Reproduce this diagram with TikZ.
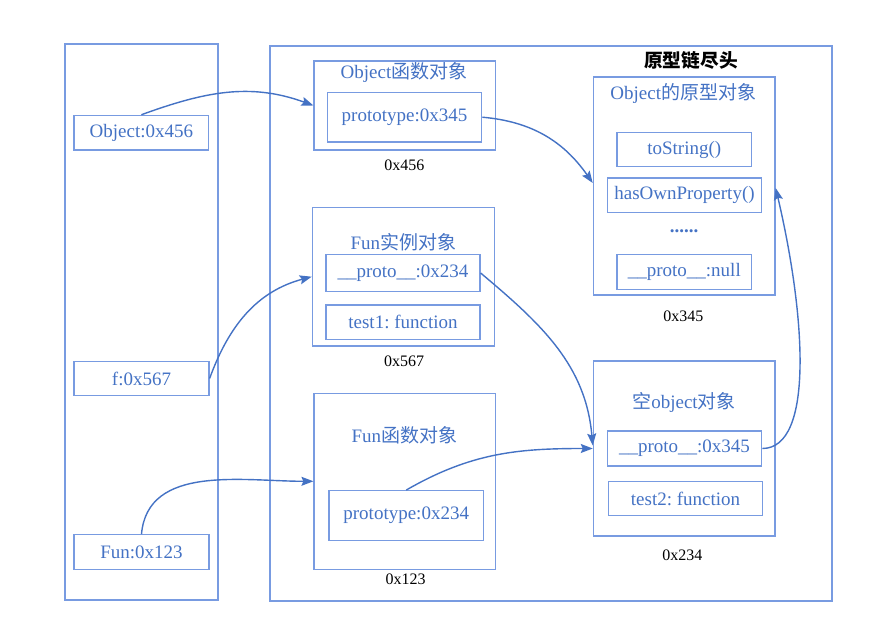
\documentclass[tikz,border=0pt]{standalone}
\usepackage{fontspec}
\setmainfont{Liberation Serif}
\newfontfamily\cjk{Noto Sans CJK SC}
\usetikzlibrary{arrows.meta, positioning}
\frenchspacing

\definecolor{boxblue}{RGB}{120,155,225}
\definecolor{txtblue}{RGB}{68,114,196}

\tikzset{
    frame/.style={draw=boxblue, line width=1.2pt, inner sep=0pt},
    field/.style={frame, text=txtblue, font=\fontsize{19}{22}\selectfont},
    heading/.style={text=txtblue, inner sep=0pt, font=\fontsize{19}{22}\selectfont},
    addr/.style={text=black, inner sep=0pt, font=\fontsize{16}{19}\selectfont},
    link/.style={draw=txtblue, line width=1.4pt, -{Stealth[length=12pt,width=9pt,inset=2pt]}},
}

\begin{document}
\begin{tikzpicture}[x=1pt,y=1pt]
    \useasboundingbox (0,0) rectangle (877,636);

        % Stack and heap
        \node[frame, minimum width=153pt, minimum height=556pt] (stack) at (141.5,314) {};
        \node[frame, minimum width=562pt, minimum height=555pt] (heap) at (551,312.5) {};
        \node[inner sep=0pt, font=\fontsize{18.7}{22}\selectfont\cjk\bfseries] (end) at (691,575.3) {原型链尽头};

        % Variables
        \node[field, minimum width=134.7pt, minimum height=34.7pt] (obj) at (141.4,503.3) {Object:0x456};
        \node[field, minimum width=135pt, minimum height=34.4pt] (f) at (141.5,257.5) {f:0x567};
        \node[field, minimum width=135pt, minimum height=34.6pt] (fun) at (141.5,84) {Fun:0x123};

        % Object function object
        \node[frame, minimum width=181.7pt, minimum height=89pt] (objfn) at (404.85,530.5) {};
        \node[heading] (objfnt) at (404,563.7) {Object{\cjk 函数对象}};
        \node[field, minimum width=154.4pt, minimum height=49.7pt] (objproto) at (404.5,518.8) {prototype:0x345};
        \node[addr] (a456) at (404.3,470.3) {0x456};

        % Fun instance
        \node[frame, minimum width=182pt, minimum height=138.7pt] (funinst) at (403.3,359.3) {};
        \node[heading] (funinstt) at (403.3,393.3) {Fun{\cjk 实例对象}};
        \node[field, minimum width=154pt, minimum height=37.4pt] (instproto) at (403,363) {\_\_proto\_\_:0x234};
        \node[field, minimum width=154pt, minimum height=34.3pt] (test1) at (403,313.8) {test1: function};
        \node[addr] (a567) at (404,275) {0x567};

        % Fun function object
        \node[frame, minimum width=181.7pt, minimum height=176pt] (funfn) at (404.85,154.7) {};
        \node[heading] (funfnt) at (404.3,200.3) {Fun{\cjk 函数对象}};
        \node[field, minimum width=154.3pt, minimum height=49.6pt] (funproto) at (406.2,120.5) {prototype:0x234};
        \node[addr] (a123) at (405.7,56.7) {0x123};

        % Object prototype
        \node[frame, minimum width=181.7pt, minimum height=218pt] (protoobj) at (684.2,450) {};
        \node[heading] (protoobjt) at (683.3,542.7) {Object{\cjk 的原型对象}};
        \node[field, minimum width=134.7pt, minimum height=33.6pt] (tostr) at (684.3,486.5) {toString()};
        \node[field, minimum width=154.4pt, minimum height=34.3pt] (hasown) at (684.5,440.8) {hasOwnProperty()};
        \node[heading, font=\fontsize{19}{22}\selectfont\bfseries] (dots) at (684,404.5) {......};
        \node[field, minimum width=134.7pt, minimum height=34.6pt] (protonull) at (684.3,364) {\_\_proto\_\_:null};
        \node[addr] (a345) at (683.3,319.3) {0x345};

        % Empty object
        \node[frame, minimum width=181.7pt, minimum height=175pt] (emptyobj) at (684.2,187.5) {};
        \node[heading] (emptyobjt) at (684,233.7) {{\cjk 空}object{\cjk 对象}};
        \node[field, minimum width=154.4pt, minimum height=35pt] (emptyproto) at (684.5,187.5) {\_\_proto\_\_:0x345};
        \node[field, minimum width=154.4pt, minimum height=34pt] (test2) at (685.5,137.3) {test2: function};
        \node[addr] (a234) at (682.3,80.3) {0x234};

        % References
        \draw[link] (obj.north) to[out=20,in=160] (objfn.west);
        \draw[link] (objproto.east) to[out=-5,in=125] ([yshift=3pt]protoobj.west);
        \draw[link] (f.east) to[out=70,in=195] (funinst.west);
        \draw[link] (instproto.east) to[out=-40,in=95] ([yshift=3pt]emptyobj.west);
        \draw[link] (funproto.north) to[out=30,in=180] (emptyobj.west);
        \draw[link] (fun.north) to[out=85,in=180] (funfn.west);
        \draw[link] (emptyproto.east) .. controls ([xshift=52pt]emptyproto.east) and ([xshift=30pt,yshift=-130pt]protoobj.east) .. ([yshift=-2pt]protoobj.east);

\end{tikzpicture}
\end{document}
